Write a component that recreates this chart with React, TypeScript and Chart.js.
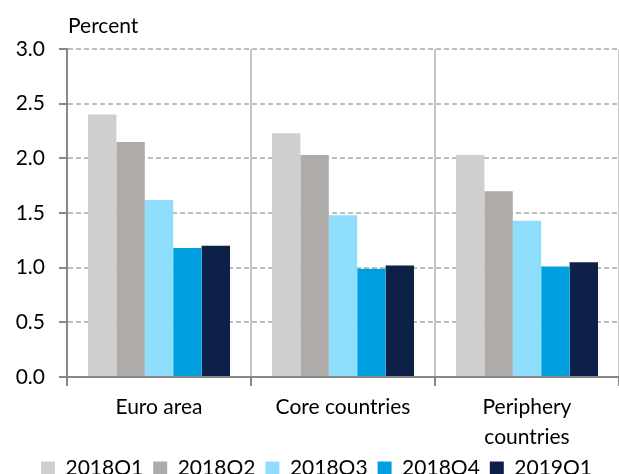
import React, { useEffect, useRef } from "react";
import { Chart, registerables } from "chart.js";

Chart.register(...registerables);

const categories: (string | string[])[] = ["Euro area", "Core countries", ["Periphery", "countries"]];
const seriesNames = ["2018Q1", "2018Q2", "2018Q3", "2018Q4", "2019Q1"];
const q2018Q1 = [2.40, 2.23, 2.03];
const q2018Q2 = [2.15, 2.03, 1.70];
const q2018Q3 = [1.62, 1.48, 1.43];
const q2018Q4 = [1.18, 0.99, 1.01];
const q2019Q1 = [1.20, 1.02, 1.05];
const seriesColors = ["#D0CECF", "#AFABA9", "#8EDDFC", "#009FDF", "#0D2148"];
const yTickMin = 0;
const yTickMax = 3;
const yTickStep = 0.5;
const yTitle = "Percent";

const FONT = "Lato";
const FS = 21;

export default function App() {
  const ref = useRef<HTMLCanvasElement | null>(null);

  useEffect(() => {
    if (!ref.current) return;
    const values = [q2018Q1, q2018Q2, q2018Q3, q2018Q4, q2019Q1];
    const titlePlugin = {
      id: "yTitle",
      afterDraw(chart: any) {
        const ctx = chart.ctx;
        ctx.save();
        ctx.font = `${FS}px ${FONT}`;
        ctx.fillStyle = "#000";
        ctx.textAlign = "left";
        ctx.textBaseline = "alphabetic";
        ctx.fillText(yTitle, chart.chartArea.left + 1, 33);
        ctx.restore();
      },
    };
    const chart = new Chart(ref.current, {
      type: "bar",
      data: {
        labels: categories,
        datasets: seriesNames.map((name, i) => ({
          label: name,
          data: values[i],
          backgroundColor: seriesColors[i],
          borderWidth: 0,
          categoryPercentage: 0.772,
          barPercentage: 1,
        })),
      },
      options: {
        animation: false,
        responsive: true,
        maintainAspectRatio: false,
        layout: { padding: { top: 49, left: 14, right: 0, bottom: 0 } },
        plugins: {
          legend: {
            position: "bottom",
            labels: {
              boxWidth: 14,
              boxHeight: 14,
              padding: 10,
              color: "#000",
              font: { family: FONT, size: FS },
            },
          },
          tooltip: { enabled: false },
          title: { display: false },
        },
        scales: {
          x: {
            afterFit: (s: any) => {
              s.height = 71;
            },
            grid: {
              offset: true,
              color: "#C6C6C6",
              lineWidth: 2,
              tickColor: "#888888",
              tickLength: 9,
              tickWidth: 2,
            },
            border: { color: "#888888", width: 2 },
            ticks: {
              color: "#000",
              font: { family: FONT, size: FS, lineHeight: 1.4 },
              padding: 7,
              maxRotation: 0,
              autoSkip: false,
            },
          },
          y: {
            min: yTickMin,
            max: yTickMax,
            afterFit: (s: any) => {
              s.width = 53;
            },
            grid: {
              color: "#BEBEBE",
              lineWidth: 2,
              tickColor: "#888888",
              tickLength: 8,
              tickWidth: 2,
              tickBorderDash: [],
            },
            border: { color: "#888888", width: 2, dash: [5, 3] },
            ticks: {
              stepSize: yTickStep,
              color: "#000",
              font: { family: FONT, size: FS },
              padding: 14,
              callback: (v: any) => Number(v).toFixed(1),
            },
          },
        },
      },
      plugins: [titlePlugin],
    });
    return () => chart.destroy();
  }, []);

  return (
    <div style={{ position: "fixed", left: 0, top: 0, width: 619, height: 474, overflow: "hidden", background: "#fff" }}>
      <div style={{ position: "relative", width: 619, height: 489 }}>
        <canvas ref={ref} />
      </div>
    </div>
  );
}
